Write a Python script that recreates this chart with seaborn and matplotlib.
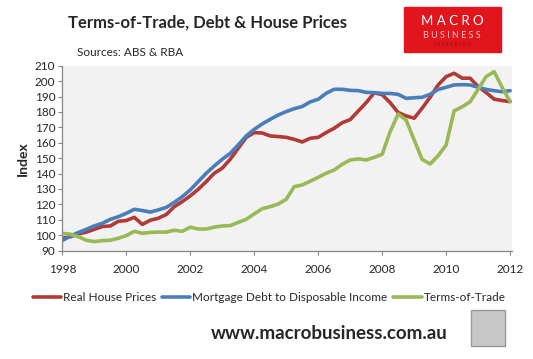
import numpy as np
import pandas as pd
import matplotlib
matplotlib.use("Agg")
import matplotlib.pyplot as plt
import seaborn as sns
from matplotlib.patches import Rectangle

# quarterly index values, 1998 Q1 .. 2012 Q1
years = [1998 + q * 0.25 for q in range(57)]

house_prices = [98, 99, 100.8, 102,
                103.8, 105.6, 106, 109,
                109.5, 111.6, 107, 109.7,
                111, 113.4, 118.5, 121.8,
                125.5, 129.8, 134.8, 140.2,
                143.5, 149.3, 156.4, 163.5,
                166.6, 166.3, 164.4, 164,
                163.5, 162.2, 160.5, 162.9,
                163.5, 166.6, 169.4, 173,
                175, 180.5, 186, 192.4,
                191.2, 186, 179.6, 177.4,
                175.9, 182.4, 189.5, 197.5,
                202.9, 205.1, 201.9, 201.9,
                196.5, 192.6, 188.3, 187.4,
                186.7]

mortgage_debt = [96.5, 99.5, 101.7, 103.8,
                 106, 107.7, 110.3, 112,
                 114.2, 116.8, 116, 115,
                 116.4, 118, 121.3, 125,
                 129.4, 134.8, 140.2, 144.9,
                 149.3, 153.1, 158.6, 164.4,
                 168.7, 172.2, 175.2, 178,
                 180.2, 182.1, 183.5, 186.5,
                 188.2, 192.1, 194.7, 194.7,
                 194, 193.8, 192.7, 192.5,
                 192, 192, 191.4, 188.8,
                 189.2, 189.5, 191.4, 194.6,
                 196, 197.5, 197.7, 197.5,
                 196, 194.6, 193.8, 193.1,
                 193.8]

terms_of_trade = [101.2, 100.6, 99, 96.7,
                  95.8, 96.5, 96.7, 98,
                  99.7, 102.5, 101.2, 101.8,
                  102, 102, 103.2, 102.5,
                  105.2, 104, 104, 105.2,
                  106, 106.2, 108.3, 110.3,
                  113.8, 117.2, 118.5, 120.2,
                  123.3, 131.5, 132.6, 135,
                  137.6, 140.2, 142.3, 146,
                  148.8, 149.5, 148.8, 150.5,
                  152.5, 167.2, 178.6, 174.7,
                  161.8, 149.2, 146.2, 151.6,
                  158.5, 180.7, 183.3, 186.6,
                  194.6, 202.9, 206.1, 196,
                  186.7]

series_names = ["Real House Prices", "Mortgage Debt to Disposable Income", "Terms-of-Trade"]
colors = ["#B23A36", "#4A7EBB", "#98B954"]

df = pd.DataFrame({"year": years * 3,
                   "value": house_prices + mortgage_debt + terms_of_trade,
                   "series": np.repeat(series_names, len(years))})

sns.set_style("white")
plt.rcParams["font.family"] = ["Lato", "DejaVu Sans"]

fig = plt.figure(figsize=(5.33, 3.59), dpi=100)
ax = fig.add_axes([0.117, 0.302, 0.843, 0.515])
ax.set_facecolor("#F2F2F2")

sns.lineplot(data=df, x="year", y="value", hue="series", palette=colors,
             hue_order=series_names, linewidth=2.6, ax=ax, legend=False)

ax.set_xlim(1998, 2012.05)
ax.set_ylim(90, 210)
ax.set_xticks(range(1998, 2013, 2))
ax.set_yticks(range(90, 211, 10))
ax.tick_params(axis="both", labelsize=8.5, length=3, color="#868686", direction="out",
               left=True, bottom=True, pad=2)
ax.tick_params(axis="x", pad=7)
for s in ["top", "right"]:
    ax.spines[s].set_visible(False)
for s in ["left", "bottom"]:
    ax.spines[s].set_color("#868686")
    ax.spines[s].set_linewidth(0.9)
ax.set_xlabel("")
ax.set_ylabel("Index", fontsize=10, fontweight="bold", labelpad=4)

# legend
handles = [plt.Line2D([], [], color=c, lw=2.6) for c in colors]
fig.legend(handles, series_names, loc="center", bbox_to_anchor=(0.505, 0.171), ncol=3,
           frameon=False, fontsize=8.5, handlelength=2.4, handletextpad=0.15,
           columnspacing=0.5)

# titles
fig.text(0.128, 0.938, "Terms-of-Trade, Debt & House Prices", fontsize=12,
         fontweight="bold", va="center", ha="left")
fig.text(0.145, 0.855, "Sources: ABS & RBA", fontsize=8.5, va="center", ha="left")
fig.text(0.618, 0.072, "www.macrobusiness.com.au", fontsize=13.5,
         fontweight="bold", va="center", ha="center")

# logo block
fig.patches.append(Rectangle((404 / 533, 1 - 52 / 359), 97 / 533, 45 / 359,
                             transform=fig.transFigure, color="#E3151C", zorder=3))
fig.text(452 / 533, 1 - 21 / 359, "M A C R O", color="white", fontsize=9.5,
         ha="center", va="center", zorder=4)
fig.text(452 / 533, 1 - 35 / 359, "B U S I N E S S", color="#F5C0C0", fontsize=6.5,
         ha="center", va="center", zorder=4)
fig.text(452 / 533, 1 - 45 / 359, "S U P E R B L O G", color="#8A1014", fontsize=3.5,
         ha="center", va="center", zorder=4)

# wolf picture placeholder
fig.patches.append(Rectangle((471 / 533, 1 - 346 / 359), 34 / 533, 36 / 359,
                             transform=fig.transFigure, facecolor="#C8C8C8",
                             edgecolor="#9A9A9A", lw=1, zorder=3))

fig.savefig("out.png", dpi=100)
